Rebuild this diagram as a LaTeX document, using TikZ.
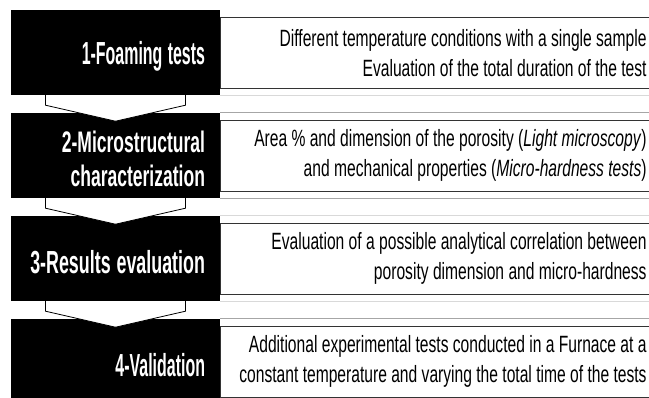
\documentclass[tikz,border=0pt]{standalone}
\usepackage{fontspec}
\setmainfont{Liberation Sans}
\usetikzlibrary{calc}

% condensed lettering
\newcommand{\narrow}[1]{\raisebox{-3.5pt}[\height][\depth]{\scalebox{0.55}[1.1]{#1}}}
\newcommand{\slim}[1]{\scalebox{0.71}[1.07]{#1}}

\begin{document}
\begin{tikzpicture}[x=1pt,y=1pt,
  stepbox/.style={fill=black,text=white,minimum height=85pt,text width=179pt,inner xsep=15pt,inner ysep=0pt,align=right,font=\bfseries\fontsize{29}{35}\selectfont},
  panel/.style={draw=black!80,line width=0.8pt,minimum width=432pt,minimum height=71pt,anchor=west},
  desc/.style={anchor=east,inner sep=0pt,align=right,font=\fontsize{22}{30}\selectfont},
  gapline/.style={draw=black!15,line width=0.7pt},
  chevron/.style={draw=black,fill=white,line width=0.8pt}]
\fill[white] (0,0) rectangle (649,397);
\clip (0,0) rectangle (649,397);

% right-hand panels
\node[panel] (p1) at (220,344) {};
\node[panel] (p2) at (220,241.5) {};
\node[panel] (p3) at (220,138.5) {};
\node[panel] (p4) at (220,35.5) {};

% the four steps
\node[stepbox] (s1) at (115.5,344.5) {\narrow{1-Foaming tests}};
\node[stepbox,font=\bfseries\fontsize{27}{34}\selectfont] (s2) at (115.5,241.5) {\scalebox{1.18}[1]{\narrow{2-Microstructural}}\\\scalebox{1.18}[1]{\narrow{characterization}}};
\node[stepbox] (s3) at (115.5,138.5) {\scalebox{1.12}[1]{\narrow{3-Results evaluation}}};
\node[stepbox] (s4) at (115.5,35.5) {\narrow{4-Validation}};

% faint rules between the rows
\draw[gapline] (s1.south east) -- ++(432,0);
\draw[gapline,draw=black!35] (s2.north east) -- ++(432,0);
\draw[gapline,draw=black!35] (s2.south east) -- ++(432,0);
\draw[gapline] (s3.north east) -- ++(432,0);
\draw[gapline] (s3.south east) -- ++(432,0);
\draw[gapline,draw=black!35] (s4.north east) -- ++(432,0);

% chevrons
\draw[chevron] ($(s1.south)+(-70,0)$) -- ++(0,-10) -- ($(s1.south)+(0,-26)$) -- ($(s1.south)+(70,-10)$) -- ++(0,10);
\draw[chevron] ($(s2.south)+(-70,0)$) -- ++(0,-10) -- ($(s2.south)+(0,-26)$) -- ($(s2.south)+(70,-10)$) -- ++(0,10);
\draw[chevron] ($(s3.south)+(-70,0)$) -- ++(0,-10) -- ($(s3.south)+(0,-26)$) -- ($(s3.south)+(70,-10)$) -- ++(0,10);

% descriptions
\node[desc] (d1) at ([xshift=-6pt]p1.east) {\slim{Different temperature conditions with a single sample}\\\slim{Evaluation of the total duration of the test}};
\node[desc] (d2) at ([xshift=-6pt]p2.east) {\slim{Area \% and dimension of the porosity (\textit{Light microscopy})}\\\slim{and mechanical properties (\textit{Micro-hardness tests})}};
\node[desc] (d3) at ([xshift=-6pt]p3.east) {\slim{Evaluation of a possible analytical correlation between}\\\slim{porosity dimension and micro-hardness}};
\node[desc] (d4) at ([xshift=-6pt]p4.east) {\slim{Additional experimental tests conducted in a Furnace at a}\\\slim{constant temperature and varying the total time of the tests}};
\end{tikzpicture}
\end{document}
